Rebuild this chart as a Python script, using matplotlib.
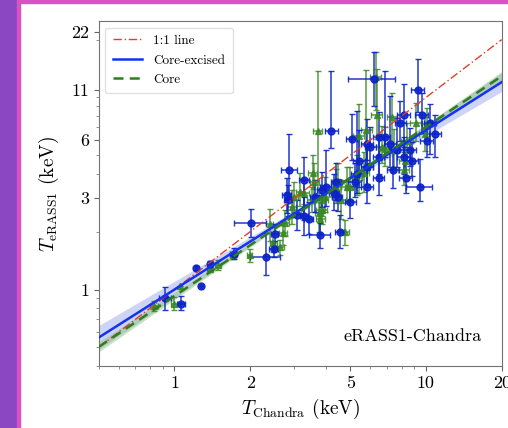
"""eRASS1 vs Chandra temperature comparison (log-log) with scaling-relation fits."""
import matplotlib
matplotlib.use("Agg")
import matplotlib.pyplot as plt
import numpy as np
from matplotlib.patches import Rectangle
from matplotlib.ticker import FixedLocator, FixedFormatter, NullFormatter, LogLocator

plt.rcParams["font.family"] = "serif"
plt.rcParams["font.serif"] = ["cmr10"]
plt.rcParams["mathtext.fontset"] = "cm"
plt.rcParams["axes.unicode_minus"] = False

# core-excised (blue circles)
blue_x = [0.92, 1.06, 1.215, 1.27, 1.38, 1.72, 2.02, 2.31, 2.50, 2.48, 2.80, 2.83, 2.86, 3.07, 3.28,
          3.28, 3.42, 3.80, 3.61, 3.85, 3.99, 4.21, 4.39, 4.54, 4.30, 4.45, 5.08, 5.00, 5.43, 5.32,
          5.20, 5.83, 5.83, 5.83, 6.20, 6.48, 6.48, 6.48, 6.85, 6.00, 7.21, 7.40, 7.67, 8.15, 7.90,
          8.15, 8.30, 8.80, 8.66, 9.27, 9.44, 9.60, 10.1, 10.4, 10.9]
blue_y = [0.905, 0.84, 1.30, 1.045, 1.355, 1.54, 2.21, 1.48, 1.94, 1.63, 3.10, 2.92, 4.19, 2.44, 3.71,
          2.42, 2.34, 1.92, 3.04, 3.30, 3.43, 6.68, 3.64, 2.00, 3.20, 3.05, 6.05, 2.86, 4.68, 4.00,
          3.64, 4.36, 5.70, 3.43, 12.5, 6.25, 4.91, 3.79, 6.25, 5.54, 5.72, 4.19, 5.32, 8.10, 7.40,
          4.91, 3.79, 4.68, 5.32, 10.9, 3.40, 8.10, 5.90, 7.40, 6.45]
blue_xerr = [0.05, 0.04, 0.0, 0.0, 0.02, 0.05, 0.29, 0.32, 0.08, 0.1, 0.12, 0.1, 0.2, 0.12, 0.15,
             0.12, 0.15, 0.37, 0.15, 0.15, 0.2, 0.25, 0.2, 0.2, 0.2, 0.2, 0.25, 0.25, 0.3, 0.3,
             0.3, 0.3, 0.3, 0.3, 1.3, 0.35, 0.35, 0.35, 0.35, 0.3, 0.4, 0.4, 0.4, 0.5, 0.4,
             0.5, 0.5, 0.5, 0.5, 0.55, 1.1, 0.55, 0.6, 0.6, 0.6]
blue_yerr_lo = [0.12, 0.06, 0.03, 0.0, 0.05, 0.10, 0.34, 0.29, 0.35, 0.15, 0.6, 0.5, 1.15, 0.4, 1.4,
                0.5, 0.4, 0.28, 0.5, 0.6, 0.7, 1.2, 0.7, 0.36, 0.6, 0.5, 1.3, 0.5, 1.25, 0.8,
                0.6, 0.8, 1.0, 0.6, 3.5, 1.45, 0.9, 0.7, 1.35, 1.0, 1.36, 0.8, 1.0, 2.56, 1.5,
                0.9, 0.6, 0.8, 0.9, 2.5, 0.5, 1.6, 1.0, 2.3, 1.55]
blue_yerr_hi = [0.12, 0.09, 0.03, 0.0, 0.05, 0.10, 0.41, 0.49, 0.25, 0.15, 0.7, 0.6, 2.3, 0.5, 1.2,
                0.6, 0.5, 0.29, 0.7, 0.8, 1.9, 7.0, 0.9, 0.44, 0.8, 0.7, 2.2, 0.6, 2.1, 4.5,
                0.9, 1.2, 2.0, 0.8, 4.8, 2.2, 1.4, 1.0, 7.5, 1.5, 4.4, 1.2, 2.5, 3.7, 2.2,
                1.3, 0.9, 1.2, 1.6, 5.0, 1.4, 2.4, 1.4, 1.9, 1.65]

# core (green triangles)
green_x = [0.833, 1.0, 1.055, 1.38, 1.49, 1.71, 1.99, 2.39, 2.47, 2.64, 2.70, 2.76, 2.93, 2.98, 3.16,
           3.28, 3.52, 3.71, 3.76, 3.80, 3.85, 3.55, 3.60, 3.87, 3.95, 4.39, 4.45, 4.78, 4.60, 4.86,
           5.00, 5.32, 5.40, 5.65, 5.83, 6.30, 6.37, 5.80, 6.70, 6.90, 7.33, 7.45, 8.15, 8.25, 8.40,
           9.10, 9.90, 10.1]
green_y = [0.819, 0.84, 1.045, 1.286, 1.34, 1.51, 1.51, 2.19, 1.75, 1.67, 1.96, 2.21, 2.70, 3.04, 3.23,
           3.20, 2.92, 6.68, 2.49, 2.34, 2.60, 4.02, 3.64, 2.92, 3.04, 3.43, 3.64, 2.00, 2.92, 3.43,
           3.43, 3.79, 6.30, 4.02, 4.36, 12.8, 8.10, 6.75, 5.54, 5.40, 7.93, 5.32, 4.19, 4.68, 5.90,
           7.33, 6.45, 7.30]
green_xerr = [0.03, 0.03, 0.0, 0.03, 0.04, 0.04, 0.05, 0.08, 0.08, 0.08, 0.1, 0.1, 0.12, 0.12, 0.12,
              0.15, 0.15, 0.15, 0.15, 0.15, 0.18, 0.15, 0.15, 0.2, 0.3, 0.2, 0.2, 0.15, 0.2, 0.25,
              0.25, 0.25, 0.25, 0.3, 0.3, 0.3, 0.3, 0.3, 0.35, 0.35, 0.35, 0.35, 0.4, 0.45, 0.45,
              0.45, 0.5, 0.5]
green_yerr_lo = [0.05, 0.06, 0.0, 0.04, 0.08, 0.06, 0.12, 0.4, 0.18, 0.15, 0.25, 0.3, 0.5, 0.5, 0.5,
                 0.4, 0.4, 3.5, 0.5, 0.4, 0.4, 0.7, 0.6, 0.5, 0.5, 0.6, 0.6, 0.3, 0.6, 0.6,
                 0.5, 0.7, 3.1, 0.8, 0.8, 4.2, 2.0, 2.0, 1.0, 1.0, 2.6, 1.0, 0.7, 0.8, 1.0,
                 1.4, 1.2, 1.3]
green_yerr_hi = [0.05, 0.07, 0.0, 0.04, 0.08, 0.06, 0.12, 0.45, 0.2, 0.15, 0.3, 0.4, 0.6, 0.6, 0.8,
                 0.5, 0.5, 7.0, 0.6, 0.5, 0.5, 1.0, 0.9, 0.6, 0.8, 0.8, 0.9, 0.3, 0.8, 0.9,
                 0.9, 1.2, 3.0, 1.2, 1.5, 4.5, 5.9, 7.2, 1.6, 1.6, 2.6, 1.5, 1.0, 1.3, 1.5,
                 2.0, 1.5, 1.5]

# best-fit power laws  T_eRASS1 = norm * T_Chandra**slope, band half-width in dex
fit_blue = dict(norm=1.0, slope=0.83, pivot=4.0, err0=0.012, err_slope=0.068)
fit_green = dict(norm=0.925, slope=0.88, pivot=3.5, err0=0.008, err_slope=0.03)

C_BLUE = "#0b22c9"
C_GREEN = "#3a8726"


def fit_curve(xx, p):
    lx = np.log10(xx)
    ly = np.log10(p["norm"]) + p["slope"] * lx
    w = np.sqrt(p["err0"] ** 2 + (p["err_slope"] * (lx - np.log10(p["pivot"]))) ** 2)
    return 10 ** ly, 10 ** (ly - w), 10 ** (ly + w)


fig = plt.figure(figsize=(5.08, 4.28), dpi=100)
fig.patch.set_facecolor("white")
# slide frame on the left/top
fig.add_artist(Rectangle((0, 0), 17 / 508, 1, transform=fig.transFigure, color="#8b47c1", zorder=-5))
fig.add_artist(Rectangle((17 / 508, 0), 2.5 / 508, 1, transform=fig.transFigure, color="#d852c4", zorder=-4))
fig.add_artist(Rectangle((17 / 508, 1 - 3 / 428), 1, 3 / 428, transform=fig.transFigure, color="#d852c4", zorder=-4))

ax = fig.add_axes([0.1943, 0.1449, 0.7933, 0.806])
ax.set_xscale("log")
ax.set_yscale("log")

xx = np.logspace(np.log10(0.5), np.log10(20), 200)
yb, yb_lo, yb_hi = fit_curve(xx, fit_blue)
yg, yg_lo, yg_hi = fit_curve(xx, fit_green)

ax.fill_between(xx, yb_lo, yb_hi, color="#7f8fe8", alpha=0.38, lw=0, zorder=1)
ax.fill_between(xx, yg_lo, yg_hi, color="#8cc07a", alpha=0.45, lw=0, zorder=1)

ax.errorbar(green_x, green_y, xerr=green_xerr, yerr=[green_yerr_lo, green_yerr_hi], fmt="^",
            color=C_GREEN, ms=5, ecolor=C_GREEN, elinewidth=1.1, capsize=2, alpha=0.85, zorder=3)
ax.errorbar(blue_x, blue_y, xerr=blue_xerr, yerr=[blue_yerr_lo, blue_yerr_hi], fmt="o",
            color=C_BLUE, ms=5, ecolor=C_BLUE, elinewidth=1.1, capsize=2, alpha=0.9, zorder=3)

ax.plot(xx, xx, color="#e0402a", lw=1, ls=(0, (6, 2, 1, 2)), label="1:1 line", zorder=4)
ax.plot(xx, yb, color="#1432f0", lw=1.8, label="Core-excised", zorder=4)
ax.plot(xx, yg, color="#2f7d1f", lw=1.8, ls=(0, (4, 2.5)), label="Core", zorder=4)

ax.set_xlim(0.5, 20)
ax.set_ylim(0.4, 25)

ax.xaxis.set_major_locator(FixedLocator([1, 2, 5, 10, 20]))
ax.xaxis.set_major_formatter(FixedFormatter(["1", "2", "5", "10", "20"]))
ax.xaxis.set_minor_locator(LogLocator(base=10, subs=np.arange(1, 10), numticks=20))
ax.xaxis.set_minor_formatter(NullFormatter())
ax.yaxis.set_major_locator(FixedLocator([1, 3, 6, 11, 22]))
ax.yaxis.set_major_formatter(FixedFormatter(["1", "3", "6", "11", "22"]))
ax.yaxis.set_minor_locator(LogLocator(base=10, subs=np.arange(1, 10), numticks=20))
ax.yaxis.set_minor_formatter(NullFormatter())
ax.tick_params(which="major", labelsize=13, length=3.5, color="0.4")
ax.tick_params(which="minor", length=2, color="0.5")
for s in ax.spines.values():
    s.set_color("0.45")

ax.set_xlabel(r"$T_{\rm Chandra}$ (keV)", fontsize=14, labelpad=4)
ax.set_ylabel(r"$T_{\rm eRASS1}$ (keV)", fontsize=14, labelpad=7)

ax.text(0.95, 0.065, "eRASS1-Chandra", transform=ax.transAxes, ha="right", va="bottom", fontsize=13)

leg = ax.legend(loc="upper left", fontsize=9.5, frameon=True, handlelength=2.2, borderpad=0.55,
                labelspacing=0.55, handletextpad=0.9)
leg.get_frame().set_edgecolor("0.85")

fig.savefig("out.png", dpi=100, facecolor=fig.get_facecolor())
